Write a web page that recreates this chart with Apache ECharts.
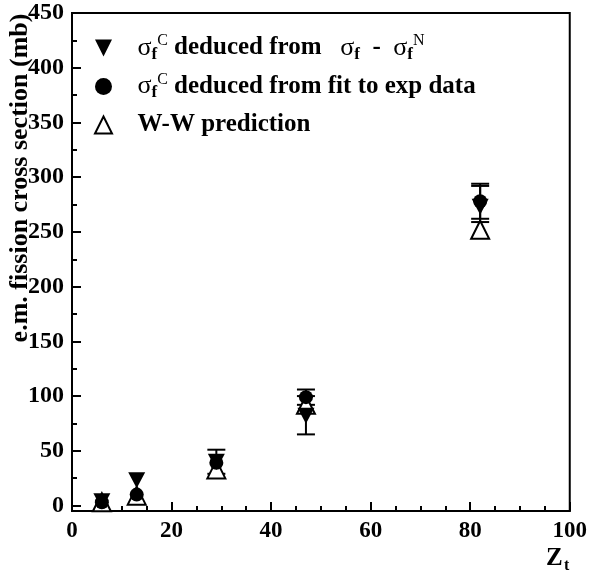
<!DOCTYPE html>
<html>
<head>
<meta charset="utf-8">
<script src="https://cdn.jsdelivr.net/npm/echarts@6/dist/echarts.min.js"></script>
<style>html,body{margin:0;padding:0;background:#fff;}#c{width:590px;height:571px;}</style>
</head>
<body>
<div id="c"></div>
<script>
// ---- data ----
const Zt = [6, 13, 29, 47, 82];
const sigmaDiff = [4, 23, 40, 82, 273];
const sigmaDiffLow = [null, null, 29, 65, 259];
const sigmaDiffHigh = [null, null, 51, 100, 292];
const sigmaFit = [3, 10, 39, 99, 278];
const sigmaFitLow = [null, null, null, 92, 262];
const sigmaFitHigh = [null, null, null, 106, 294];
const wwPred = [3, 9, 33, 92, 252];
const xRange = [0, 100];
const yRange = [-5, 450];
const xStep = 20;
const yTickLabels = [0, 50, 100, 150, 200, 250, 300, 350, 400, 450];
const yMinorTicks = [25, 75, 125, 175, 225, 275, 325, 375, 425];

const NAME_DIFF = 'σfC deduced from σf - σfN';
const NAME_FIT = 'σfC deduced from fit to exp data';
const NAME_WW = 'W-W prediction';
const legendRich = {};
legendRich[NAME_DIFF] = '{g|σ}{sub|f}{sup|C}{t| deduced from   }{g|σ}{sub|f}{t|  -  }{g|σ}{sub|f}{sup|N}';
legendRich[NAME_FIT] = '{g|σ}{sub|f}{sup|C}{t| deduced from fit to exp data}';
legendRich[NAME_WW] = '{t|W-W prediction}{sub| }{sup| }';

const pairs = (xs, ys) => xs.map((x, i) => [x, ys[i]]);
const errRows = (lo, hi) => Zt.map((x, i) => [x, lo[i], hi[i]]).filter(r => r[1] !== null);

const FONT = 'Liberation Serif';
const DOWN_TRI = 'path://M0,0L10,0L5,10Z';
const UP_TRI = 'path://M5,0L10,10L0,10Z';

function errRender(params, api) {
  const x = api.value(0), lo = api.value(1), hi = api.value(2);
  const a = api.coord([x, lo]), b = api.coord([x, hi]);
  const w = 9;
  const st = {stroke: '#000', lineWidth: 2};
  return {type: 'group', children: [
    {type: 'line', shape: {x1: a[0], y1: a[1], x2: b[0], y2: b[1]}, style: st},
    {type: 'line', shape: {x1: a[0] - w, y1: a[1], x2: a[0] + w, y2: a[1]}, style: st},
    {type: 'line', shape: {x1: b[0] - w, y1: b[1], x2: b[0] + w, y2: b[1]}, style: st}
  ]};
}

const chart = echarts.init(document.getElementById('c'));
chart.setOption({
  animation: false,
  backgroundColor: '#fff',
  grid: {left: 72, top: 13, width: 499, height: 498, show: true, borderColor: '#000', borderWidth: 2, containLabel: false},
  xAxis: {
    type: 'value', min: xRange[0], max: xRange[1], interval: xStep,
    axisLine: {onZero: false, lineStyle: {color: '#000', width: 2}},
    axisTick: {inside: true, length: 9, lineStyle: {color: '#000', width: 2}},
    minorTick: {show: true, splitNumber: 4, length: 5, lineStyle: {color: '#000', width: 2}},
    splitLine: {show: false},
    axisLabel: {color: '#000', fontFamily: FONT, fontWeight: 'bold', fontSize: 23, margin: 9}
  },
  yAxis: [{
    type: 'value', min: yRange[0], max: yRange[1],
    axisLine: {show: true, onZero: false, lineStyle: {color: '#000', width: 2}},
    axisTick: {inside: true, length: 9, customValues: yTickLabels, lineStyle: {color: '#000', width: 2}},
    splitLine: {show: false},
    axisLabel: {color: '#000', fontFamily: FONT, fontWeight: 'bold', fontSize: 24, margin: 8, customValues: yTickLabels}
  }, {
    type: 'value', min: yRange[0], max: yRange[1], position: 'left',
    axisLine: {show: false},
    axisTick: {show: true, inside: true, length: 5, customValues: yMinorTicks, lineStyle: {color: '#000', width: 2}},
    splitLine: {show: false},
    axisLabel: {show: false}
  }],
  legend: {
    orient: 'vertical', left: 89, top: 28, itemWidth: 58, itemHeight: 17, itemGap: 8.5,
    selectedMode: false,
    data: [
      {name: NAME_DIFF, icon: DOWN_TRI},
      {name: NAME_FIT, icon: 'circle'},
      {name: NAME_WW, icon: UP_TRI}
    ],
    formatter: n => legendRich[n],
    textStyle: {
      color: '#000',
      rich: {
        g: {fontFamily: FONT, fontWeight: 'normal', fontSize: 26, lineHeight: 30, color: '#000'},
        t: {fontFamily: FONT, fontWeight: 'bold', fontSize: 25, lineHeight: 30, color: '#000'},
        sub: {fontFamily: FONT, fontWeight: 'bold', fontSize: 17, lineHeight: 11, verticalAlign: 'bottom', color: '#000'},
        sup: {fontFamily: FONT, fontWeight: 'normal', fontSize: 16, lineHeight: 24, verticalAlign: 'top', color: '#000'}
      }
    }
  },
  graphic: [
    {type: 'text', x: 20, y: 178, rotation: Math.PI / 2,
      style: {text: 'e.m. fission cross section (mb)', font: 'bold 26px "Liberation Serif"', fill: '#000', align: 'center', verticalAlign: 'middle'}},
    {type: 'text', x: 546, y: 559,
      style: {text: 'Z', font: 'bold 25px "Liberation Serif"', fill: '#000', align: 'left', verticalAlign: 'middle'}},
    {type: 'text', x: 564, y: 566,
      style: {text: 't', font: 'bold 16px "Liberation Serif"', fill: '#000', align: 'left', verticalAlign: 'middle'}}
  ],
  series: [
    {type: 'custom', name: 'errDiff', renderItem: errRender, encode: {x: 0, y: [1, 2]}, data: errRows(sigmaDiffLow, sigmaDiffHigh), z: 1, silent: true},
    {type: 'custom', name: 'errFit', renderItem: errRender, encode: {x: 0, y: [1, 2]}, data: errRows(sigmaFitLow, sigmaFitHigh), z: 1, silent: true},
    {type: 'scatter', name: NAME_WW, data: pairs(Zt, wwPred), symbol: UP_TRI, symbolSize: [18, 18],
      itemStyle: {color: '#fff', borderColor: '#000', borderWidth: 2, opacity: 1}, z: 2},
    {type: 'scatter', name: NAME_FIT, data: pairs(Zt, sigmaFit), symbol: 'circle', symbolSize: 14,
      itemStyle: {color: '#000', opacity: 1}, z: 3},
    {type: 'scatter', name: NAME_DIFF, data: pairs(Zt, sigmaDiff), symbol: DOWN_TRI, symbolSize: [17, 16],
      itemStyle: {color: '#000', opacity: 1}, z: 4}
  ]
});
</script>
</body>
</html>
